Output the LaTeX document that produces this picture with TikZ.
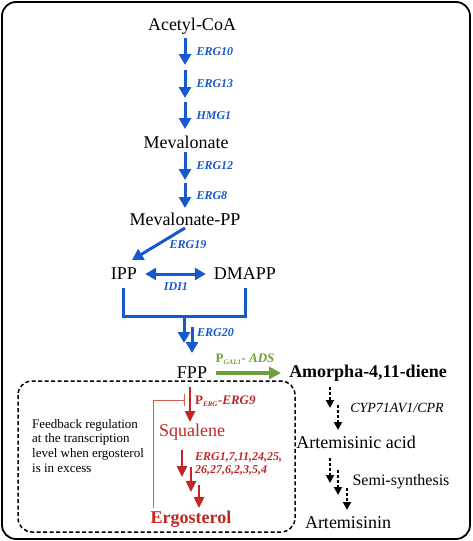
\documentclass[tikz,border=0pt]{standalone}
\usepackage{fontspec}
\setmainfont{Liberation Serif}
\usetikzlibrary{arrows.meta}
\usetikzlibrary{positioning}
\definecolor{bleu}{RGB}{22,88,206}
\definecolor{rouge}{RGB}{192,38,36}
\definecolor{rose}{RGB}{214,92,80}
\definecolor{vert}{RGB}{108,160,58}
\tikzstyle{voie} = [-{Triangle[width=12pt,length=11pt]},line width=3pt,bleu]
\tikzstyle{voierouge} = [-{Triangle[width=10pt,length=11pt]},line width=2.4pt,rouge]
\tikzstyle{pointille} = [-{Triangle[width=8pt,length=8pt]},line width=1.8pt,dash pattern=on 3pt off 2pt]
\tikzstyle{gene} = [font=\fontsize{12}{13}\selectfont\bfseries\itshape,inner sep=0pt]
\tikzstyle{mol} = [font=\fontsize{18}{20}\selectfont,inner sep=0pt]

\begin{document}
\begin{tikzpicture}[x=1pt,y=-1pt]
	\useasboundingbox (0,0) rectangle (472,541);
	\draw[line width=1.8pt,rounded corners=14pt] (2,2) rectangle (470,539);

	% voie du mevalonate
	\node[mol] (acetyl) at (192,26) {Acetyl-CoA};
	\draw[voie] (185,38) -- node[gene,right=10pt,text=bleu] (erg10) {ERG10} (185,65);
	\draw[voie] (185,70) -- node[gene,right=10pt,text=bleu] (erg13) {ERG13} (185,98);
	\draw[voie] (185,102) -- node[gene,right=10pt,text=bleu] (hmg1) {HMG1} (185,129);

	\node[mol] (meva) at (186,142) {Mevalonate};
	\draw[voie] (185,152) -- node[gene,right=10pt,text=bleu] (erg12) {ERG12} (185,180);
	\draw[voie] (185,183) -- node[gene,right=10pt,text=bleu] (erg8) {ERG8} (185,208);

	\node[mol] (mevapp) at (185,219) {Mevalonate-PP};
	\draw[voie] (185,228) -- (132,260);
	\node[gene,text=bleu] (erg19) at (188,245) {ERG19};

	\node[mol] (ipp) at (124,274) {IPP};
	\node[mol] (dmapp) at (245,274) {DMAPP};
	\draw[voie,{Triangle[width=12pt,length=11pt]}-{Triangle[width=12pt,length=11pt]}] (ipp.east)+(8,0) -- ([xshift=-8pt]dmapp.west);
	\node[gene,text=bleu] (idi1) at (176,287) {IDI1};

	\draw[bleu,line width=3pt] (123,288) |- (245,316) -- (245,288);
	\draw[voie] (184,316) -- (184,343);
	\draw[voie] (192,327) -- (192,353);
	\node[gene,text=bleu,anchor=west] (erg20) at (197,333) {ERG20};

	\node[mol] (fpp) at (192,373) {FPP};
	\node[mol,font=\fontsize{18}{20}\selectfont\bfseries] (amor) at (368,373) {Amorpha-4,11-diene};
	\draw[-{Triangle[width=12pt,length=12pt]},line width=3.2pt,vert] ([xshift=9pt]fpp.east) -- ([xshift=-8pt]amor.west);
	\node[inner sep=0pt,text=vert,font=\fontsize{13}{14}\selectfont] (gal) at (245,359) {\textbf{P}$_{\textbf{\textit{\scriptsize GAL1}}}$\textbf{\textit{- ADS}}};

	% boite de regulation
	\draw[line width=1.5pt,dash pattern=on 4pt off 2.5pt,rounded corners=14pt] (18,381) rectangle (295,532);

	\draw[voierouge] (190,387) -- (190,422);
	\node[inner sep=0pt,anchor=west,text=rouge,font=\fontsize{13}{14}\selectfont] (erg9) at (195,401) {\textbf{P}$_{\textbf{\textit{\scriptsize ERG}}}$\textbf{\textit{-ERG9}}};
	\node[mol,text=rouge] (squa) at (192,432) {Squalene};
	\draw[rose,line width=1pt,-{Bar[width=12pt]}] (153,508) |- (185,400);

	\node[inner sep=0pt,anchor=north west,align=left,font=\fontsize{13}{14.6}\selectfont] (feed) at (32,419)
	  {Feedback regulation\\at the transcription\\level when ergosterol\\is in excess};

	\draw[voierouge] (182,450) -- (182,477);
	\draw[voierouge] (191,467) -- (191,492);
	\draw[voierouge] (199,485) -- (199,508);
	\node[gene,text=rouge,anchor=west,align=left] (ergs) at (195,463.5) {ERG1,7,11,24,25,\\26,27,6,2,3,5,4};
	\node[mol,text=rouge,font=\fontsize{18}{20}\selectfont\bfseries] (ergo) at (191,519) {Ergosterol};

	% semi-synthese
	\draw[pointille] (330,387) -- (330,408);
	\draw[pointille] (338,405) -- (338,430);
	\node[inner sep=0pt,font=\fontsize{14}{16}\selectfont\itshape] (cyp) at (397,408) {CYP71AV1/CPR};
	\node[mol] (artac) at (356,442) {Artemisinic acid};
	\draw[pointille] (330,458) -- (330,483);
	\draw[pointille] (338,470) -- (338,495);
	\draw[pointille] (347,488) -- (347,510);
	\node[inner sep=0pt,font=\fontsize{16}{18}\selectfont] (semi) at (401,482) {Semi-synthesis};
	\node[mol] (artem) at (348,523) {Artemisinin};

\end{tikzpicture}
\end{document}
